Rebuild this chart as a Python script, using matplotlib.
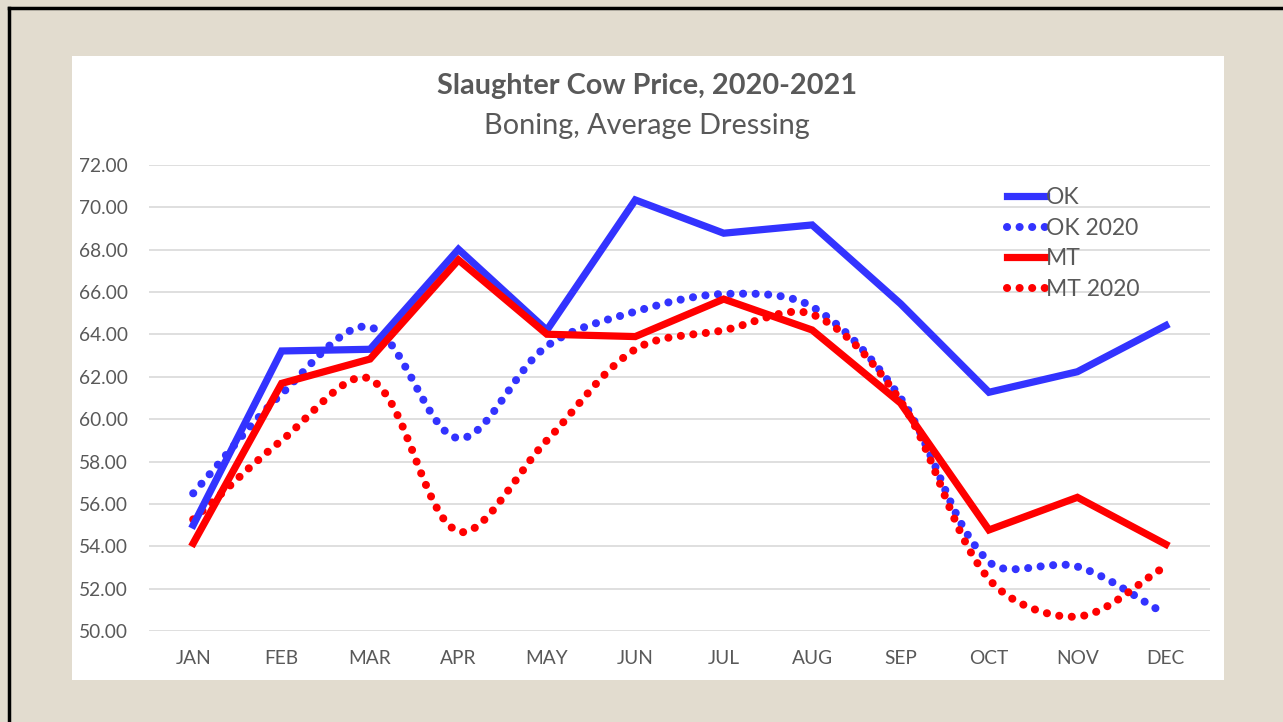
import matplotlib
matplotlib.use("Agg")
import matplotlib.pyplot as plt
from matplotlib.path import Path
from matplotlib.patches import PathPatch, Rectangle
from matplotlib.lines import Line2D
import numpy as np

plt.rcParams['font.family'] = ['Lato', 'DejaVu Sans']

months = ['JAN', 'FEB', 'MAR', 'APR', 'MAY', 'JUN', 'JUL', 'AUG', 'SEP', 'OCT', 'NOV', 'DEC']
ok = [55.0, 63.22, 63.3, 68.02, 64.2, 70.35, 68.78, 69.17, 65.45, 61.27, 62.24, 64.42]
ok_2020 = [56.5, 61.2, 64.35, 59.1, 63.45, 65.08, 65.91, 65.31, 61.0, 53.27, 53.04, 50.8]
mt = [54.14, 61.69, 62.84, 67.52, 64.01, 63.9, 65.67, 64.21, 60.76, 54.77, 56.31, 54.09]
mt_2020 = [55.27, 59.0, 61.9, 54.7, 59.0, 63.3, 64.2, 64.95, 60.85, 52.45, 50.68, 53.05]

text_grey = '#595959'
blue = '#3333FF'
red = '#FF0000'


def smooth_path(ax, xs, ys):
    # smoothed line (chord-weighted bezier, worked out in screen space like Excel)
    pts = ax.transData.transform(np.column_stack([xs, ys]))
    n = len(pts)
    verts = [pts[0]]
    codes = [Path.MOVETO]
    for i in range(n - 1):
        p0 = pts[i - 1] if i > 0 else pts[i]
        p1 = pts[i]
        p2 = pts[i + 1]
        p3 = pts[i + 2] if i + 2 < n else pts[i + 1]
        d01 = np.hypot(*(p1 - p0))
        d12 = np.hypot(*(p2 - p1))
        d23 = np.hypot(*(p3 - p2))
        t1 = (p2 - p0) / max(d01 + d12, 1e-9)
        t2 = (p3 - p1) / max(d12 + d23, 1e-9)
        c1 = p1 + t1 * d12 / 3.0
        c2 = p2 - t2 * d12 / 3.0
        verts += [c1, c2, p2]
        codes += [Path.CURVE4] * 3
    verts = ax.transData.inverted().transform(np.array(verts))
    return Path(verts, codes)


fig = plt.figure(figsize=(12.83, 7.22), dpi=100)
fig.patch.set_facecolor('#E2DCCF')

W, H = 1283.0, 722.0
# white chart panel
fig.patches.append(Rectangle((72 / W, 1 - 680 / H), (1224 - 72) / W, (680 - 56) / H,
                             transform=fig.transFigure, facecolor='white', edgecolor='none', zorder=0))
# dark frame edges
fig.add_artist(Line2D([9 / W, 9 / W], [0, 1 - 8 / H], transform=fig.transFigure, color='black', lw=2.5))
fig.add_artist(Line2D([9 / W, 1], [1 - 8 / H, 1 - 8 / H], transform=fig.transFigure, color='black', lw=2.5))

ax = fig.add_axes([149 / W, 1 - 631 / H, (1210 - 149) / W, (631 - 165) / H])
ax.set_facecolor('none')
ax.set_zorder(2)

x = np.arange(len(months))
ax.set_xlim(-0.5, 11.5)
ax.set_ylim(50, 72)

lw = 5.2
ax.plot(x, ok, color=blue, lw=lw, solid_joinstyle='miter', zorder=3)
ax.plot(x, mt, color=red, lw=lw, solid_joinstyle='miter', zorder=4)

for vals, col in [(ok_2020, blue), (mt_2020, red)]:
    patch = PathPatch(smooth_path(ax, x, vals), facecolor='none', edgecolor=col, lw=5.8,
                      linestyle=(0, (0.01, 1.55)), capstyle='round', transform=ax.transData, zorder=2)
    ax.add_patch(patch)

ax.set_yticks(np.arange(50, 72.1, 2))
ax.set_yticklabels([f'{v:.2f}' for v in np.arange(50, 72.1, 2)])
ax.set_xticks(x)
ax.set_xticklabels(months)
ax.grid(axis='y', color='#D9D9D9', lw=1.2)
ax.set_axisbelow(True)
for s in ax.spines.values():
    s.set_visible(False)
ax.tick_params(axis='both', length=0, colors=text_grey, labelsize=13.8)
ax.tick_params(axis='x', pad=14)
ax.tick_params(axis='y', pad=15)

fig.text(647 / W, 1 - 86 / H, 'Slaughter Cow Price, 2020-2021', ha='center', va='center',
         fontsize=20.8, fontweight='bold', color=text_grey, zorder=3)
fig.text(647 / W, 1 - 126 / H, 'Boning, Average Dressing', ha='center', va='center',
         fontsize=20.8, color=text_grey, zorder=3)

handles = [Line2D([], [], color=blue, lw=lw),
           Line2D([], [], color=blue, lw=5.8, linestyle=(0, (0.01, 1.55)), dash_capstyle='round'),
           Line2D([], [], color=red, lw=lw),
           Line2D([], [], color=red, lw=5.8, linestyle=(0, (0.01, 1.55)), dash_capstyle='round')]
leg = ax.legend(handles, ['OK', 'OK 2020', 'MT', 'MT 2020'], loc='upper left',
                bbox_to_anchor=(1007 / W, 1 - 187 / H), bbox_transform=fig.transFigure,
                frameon=False, fontsize=16.5, handlelength=1.7, handletextpad=0.0,
                labelspacing=0.42, borderpad=0, borderaxespad=0)
for t in leg.get_texts():
    t.set_color(text_grey)

fig.savefig('out.png', dpi=100, facecolor=fig.get_facecolor())
